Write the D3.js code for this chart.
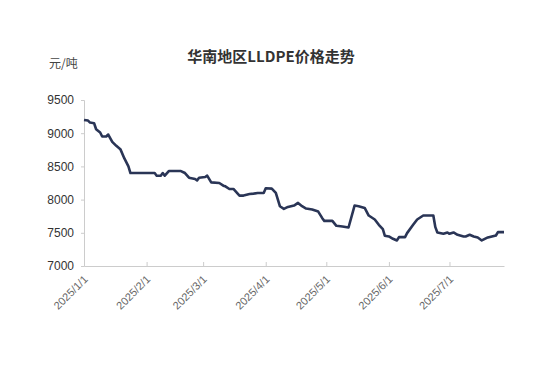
<!DOCTYPE html>
<html>
<head>
<meta charset="utf-8">
<script src="https://cdn.jsdelivr.net/npm/d3@7"></script>
<style>
  body { margin: 0; background: #fff; }
  svg { display: block; }
</style>
</head>
<body>
<div id="chart"></div>
<script>
const dates = [
  '2025-01-01','2025-01-03','2025-01-04','2025-01-06','2025-01-07','2025-01-09','2025-01-10','2025-01-12',
  '2025-01-13','2025-01-15','2025-01-17','2025-01-19','2025-01-21','2025-01-23','2025-01-24','2025-02-05',
  '2025-02-06','2025-02-08','2025-02-09','2025-02-10','2025-02-12','2025-02-18','2025-02-20','2025-02-22',
  '2025-02-25','2025-02-26','2025-02-27','2025-03-02','2025-03-03','2025-03-05','2025-03-09','2025-03-11',
  '2025-03-12','2025-03-14','2025-03-16','2025-03-19','2025-03-21','2025-03-24','2025-03-26','2025-03-28',
  '2025-03-31','2025-04-01','2025-04-04','2025-04-06','2025-04-08','2025-04-10','2025-04-12','2025-04-15',
  '2025-04-17','2025-04-19','2025-04-21','2025-04-24','2025-04-27','2025-04-29','2025-04-30','2025-05-04',
  '2025-05-06','2025-05-09','2025-05-12','2025-05-15','2025-05-17','2025-05-20','2025-05-22','2025-05-25',
  '2025-05-27','2025-05-29','2025-05-30','2025-06-01','2025-06-03','2025-06-05','2025-06-06','2025-06-09',
  '2025-06-10','2025-06-13','2025-06-15','2025-06-18','2025-06-23','2025-06-24','2025-06-25','2025-06-28',
  '2025-06-30','2025-07-01','2025-07-03','2025-07-05','2025-07-08','2025-07-09','2025-07-11','2025-07-13',
  '2025-07-15','2025-07-17','2025-07-20','2025-07-22','2025-07-24','2025-07-25','2025-07-28'
];
const prices = [
  9200, 9190, 9160, 9150, 9060, 9010, 8950, 8950,
  8980, 8870, 8810, 8760, 8620, 8500, 8400, 8400,
  8360, 8360, 8400, 8360, 8430, 8430, 8400, 8330,
  8310, 8290, 8330, 8340, 8360, 8260, 8250, 8210,
  8200, 8160, 8160, 8060, 8060, 8085, 8090, 8100,
  8100, 8170, 8165, 8100, 7900, 7860, 7890, 7910,
  7950, 7900, 7865, 7850, 7820, 7720, 7680, 7680,
  7605, 7595, 7580, 7910, 7900, 7875, 7760, 7700,
  7620, 7555, 7455, 7445, 7410, 7385, 7435, 7435,
  7495, 7620, 7700, 7760, 7760, 7585, 7505, 7485,
  7505, 7485, 7505, 7470, 7445, 7445, 7470, 7445,
  7430, 7385, 7430, 7445, 7460, 7510, 7510
];
const yTicks = [7000, 7500, 8000, 8500, 9000, 9500];
const xTickLabels = ['2025/1/1','2025/2/1','2025/3/1','2025/4/1','2025/5/1','2025/6/1','2025/7/1'];

const width = 542, height = 367;
const parse = d3.timeParse('%Y-%m-%d');
const data = dates.map((d, i) => ({ date: parse(d), value: prices[i] }));

const svg = d3.select('#chart').append('svg')
  .attr('width', width)
  .attr('height', height);

const x = d3.scaleTime()
  .domain([parse('2025-01-01'), parse('2025-07-28')])
  .range([84, 504]);

const y = d3.scaleLinear()
  .domain([7000, 9500])
  .range([266, 100]);

// title + unit
svg.append('text')
  .attr('x', 271).attr('y', 62)
  .attr('text-anchor', 'middle')
  .style('font-family', '"Noto Sans CJK SC", sans-serif')
  .style('font-size', '15px')
  .style('font-weight', 'bold')
  .attr('fill', '#333')
  .text('华南地区LLDPE价格走势');

svg.append('text')
  .attr('x', 49).attr('y', 68)
  .style('font-family', '"Noto Sans CJK SC", sans-serif')
  .style('font-size', '12px')
  .attr('fill', '#444')
  .text('元/吨');

// y axis
const yAxis = svg.append('g')
  .attr('transform', 'translate(84,0)')
  .call(d3.axisLeft(y).tickValues(yTicks).tickSize(3).tickPadding(7).tickFormat(d3.format('d')));
yAxis.select('.domain').attr('stroke', '#ccc');
yAxis.selectAll('.tick line').attr('stroke', '#ccc');
yAxis.selectAll('text')
  .style('font-family', '"Liberation Sans", Arial, sans-serif')
  .style('font-size', '12px')
  .attr('fill', '#333');

// x axis
const monthTicks = xTickLabels.map(s => d3.timeParse('%Y/%m/%d')(s));
const xAxis = svg.append('g')
  .attr('transform', 'translate(0,266)')
  .call(d3.axisBottom(x).tickValues(monthTicks).tickSize(-4).tickSizeOuter(0).tickFormat(d3.timeFormat('%Y/%-m/%-d')));
xAxis.select('.domain').attr('stroke', '#ccc');
xAxis.selectAll('.tick line').attr('stroke', '#ccc');
xAxis.selectAll('text')
  .style('font-family', '"Liberation Sans", Arial, sans-serif')
  .style('font-size', '11px')
  .attr('fill', '#666')
  .attr('text-anchor', 'end')
  .attr('dy', null)
  .attr('y', 0)
  .attr('transform', 'translate(4,14) rotate(-45)');

// price line
svg.append('path')
  .datum(data)
  .attr('fill', 'none')
  .attr('stroke', '#2a3556')
  .attr('stroke-width', 2.6)
  .attr('stroke-linejoin', 'round')
  .attr('d', d3.line().x(d => x(d.date)).y(d => y(d.value)));
</script>
</body>
</html>
